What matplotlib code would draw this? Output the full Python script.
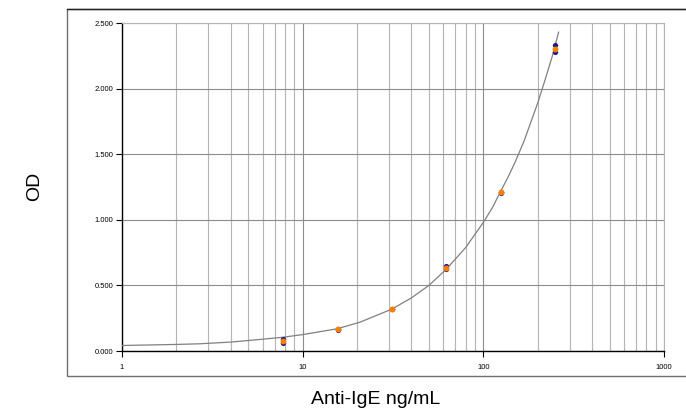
import numpy as np
import matplotlib
matplotlib.use("Agg")
import matplotlib.pyplot as plt
from matplotlib.patches import Rectangle
from matplotlib.ticker import FixedLocator, FixedFormatter, NullFormatter

# standards (ng/mL) and replicate ODs
conc = [7.8, 15.6, 31.25, 62.5, 125, 250]
od_rep1 = [0.090, 0.167, 0.322, 0.645, 1.212, 2.330]
od_rep2 = [0.058, 0.163, 0.318, 0.622, 1.208, 2.280]

# fitted curve
curve_x = [1, 2, 2.7, 4, 5.8, 7.8, 10, 15.6, 20.8, 31.25, 40, 50, 62.5, 80,
           100, 112, 125, 137, 150, 168, 185, 200, 220, 240, 261]
curve_y = [0.042, 0.050, 0.055, 0.068, 0.088, 0.105, 0.125, 0.170, 0.220,
           0.320, 0.405, 0.500, 0.625, 0.790, 0.980, 1.090, 1.220, 1.325,
           1.440, 1.600, 1.760, 1.890, 2.070, 2.240, 2.430]

y_ticks = [0.0, 0.5, 1.0, 1.5, 2.0, 2.5]
y_labels = ["0.000", "0.500", "1.000", "1.500", "2.000", "2.500"]
x_ticks = [1, 10, 100, 1000]
x_labels = ["1", "10", "100", "1000"]

fig = plt.figure(figsize=(6.86, 4.15), dpi=100)

# outer frame (runs off the right edge)
fig.patches.append(Rectangle((67 / 686, 1 - 376 / 415), 0.99, (376 - 9) / 415,
                             transform=fig.transFigure, fill=False,
                             edgecolor="#707070", linewidth=1.0))
fig.lines.append(plt.Line2D([67 / 686, 1], [1 - 9 / 415, 1 - 9 / 415],
                            transform=fig.transFigure, color="#222222",
                            linewidth=1.0))

ax = fig.add_axes([122 / 686, 1 - 351 / 415, 542 / 686, 328 / 415])
ax.set_xscale("log")
ax.set_xlim(1, 1000)
ax.set_ylim(0, 2.5)

minor = [m * d for d in (1, 10, 100) for m in range(2, 10)]
ax.xaxis.set_major_locator(FixedLocator(x_ticks))
ax.xaxis.set_major_formatter(FixedFormatter(x_labels))
ax.xaxis.set_minor_locator(FixedLocator(minor))
ax.xaxis.set_minor_formatter(NullFormatter())
ax.yaxis.set_major_locator(FixedLocator(y_ticks))
ax.yaxis.set_major_formatter(FixedFormatter(y_labels))

ax.grid(True, which="major", axis="both", color="#8c8c8c", linewidth=0.8)
ax.grid(True, which="minor", axis="x", color="#b4b4b4", linewidth=0.8)
ax.set_axisbelow(True)

for s in ("top", "right"):
    ax.spines[s].set_color("#b4b4b4")
    ax.spines[s].set_linewidth(0.8)
for s in ("left", "bottom"):
    ax.spines[s].set_color("black")
    ax.spines[s].set_linewidth(1.0)

ax.tick_params(axis="both", which="major", labelsize=5.5, length=4,
               width=0.8, color="black", pad=2)
ax.tick_params(axis="x", which="minor", length=0)
ax.tick_params(axis="x", which="major", pad=5)

ax.plot(curve_x, curve_y, color="#808080", linewidth=0.9, zorder=3)

rep1 = np.array(od_rep1)
rep2 = np.array(od_rep2)
mean = (rep1 + rep2) / 2
lo = np.minimum(rep1, rep2)
hi = np.maximum(rep1, rep2)
ax.errorbar(conc, mean, yerr=[mean - lo, hi - mean], fmt="none",
            ecolor="#9a9ab0", elinewidth=0.6, capsize=2.5, capthick=0.6,
            zorder=4)
ax.scatter(conc, rep1, s=14, color="#1a1a8c", zorder=5, linewidths=0)
ax.scatter(conc, rep2, s=14, color="#1a1a8c", zorder=5, linewidths=0)
ax.scatter(conc, mean, s=18, color="#ff8000", zorder=6, linewidths=0)

fig.text(35 / 686, 1 - 186 / 415, "OD", rotation=90, ha="center",
         va="center", fontsize=14, family="Liberation Sans")
fig.text(376 / 686, 1 - 399 / 415, "Anti-IgE ng/mL", ha="center",
         va="center", fontsize=14, family="Liberation Sans")

for lab in ax.get_xticklabels() + ax.get_yticklabels():
    lab.set_family("Liberation Sans")

fig.savefig("out.png", dpi=100)
